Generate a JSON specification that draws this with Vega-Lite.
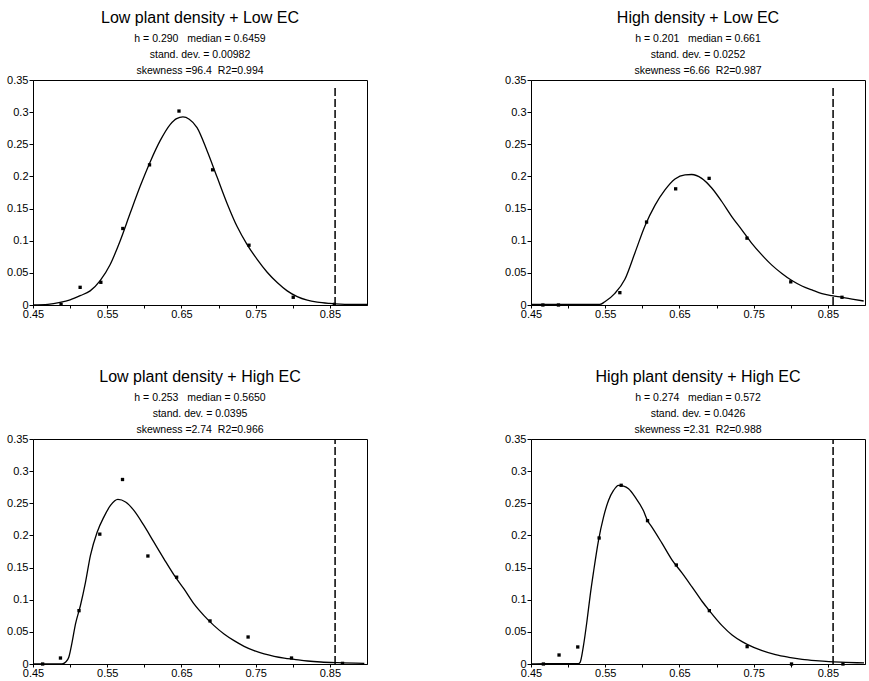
{
  "$schema": "https://vega.github.io/schema/vega-lite/v6.json",
  "background": "white",
  "padding": {"left": 6, "top": 9, "right": 2, "bottom": 2},
  "columns": 2,
  "spacing": {"row": 134, "column": 164},
  "bounds": "flush",
  "datasets": {
    "c1": [
      {"x": 0.45, "y": 0}, {"x": 0.47, "y": 0.001}, {"x": 0.4865, "y": 0.004}, {"x": 0.5, "y": 0.008},
      {"x": 0.5135, "y": 0.0145}, {"x": 0.527, "y": 0.022}, {"x": 0.5405, "y": 0.038}, {"x": 0.554, "y": 0.063},
      {"x": 0.5675, "y": 0.1}, {"x": 0.581, "y": 0.143}, {"x": 0.5945, "y": 0.185}, {"x": 0.608, "y": 0.223},
      {"x": 0.6215, "y": 0.256}, {"x": 0.635, "y": 0.281}, {"x": 0.6435, "y": 0.29}, {"x": 0.652, "y": 0.2925},
      {"x": 0.6605, "y": 0.289}, {"x": 0.671, "y": 0.276}, {"x": 0.6845, "y": 0.24}, {"x": 0.698, "y": 0.199},
      {"x": 0.7115, "y": 0.158}, {"x": 0.725, "y": 0.122}, {"x": 0.7385, "y": 0.094}, {"x": 0.752, "y": 0.071},
      {"x": 0.7655, "y": 0.051}, {"x": 0.779, "y": 0.035}, {"x": 0.7925, "y": 0.022}, {"x": 0.806, "y": 0.013},
      {"x": 0.8195, "y": 0.0075}, {"x": 0.833, "y": 0.0045}, {"x": 0.85, "y": 0.0025}, {"x": 0.875, "y": 0.001},
      {"x": 0.9, "y": 0.001}
    ],
    "p1": [
      {"x": 0.4878, "y": 0.001}, {"x": 0.5135, "y": 0.0275}, {"x": 0.5414, "y": 0.0353}, {"x": 0.571, "y": 0.119},
      {"x": 0.607, "y": 0.218}, {"x": 0.6467, "y": 0.3017}, {"x": 0.692, "y": 0.2103}, {"x": 0.741, "y": 0.093},
      {"x": 0.8006, "y": 0.012}, {"x": 0.856, "y": 0.001}
    ],
    "c2": [
      {"x": 0.45, "y": 0.001}, {"x": 0.5, "y": 0.001}, {"x": 0.5427, "y": 0.001}, {"x": 0.5495, "y": 0.005},
      {"x": 0.563, "y": 0.018}, {"x": 0.5765, "y": 0.04}, {"x": 0.59, "y": 0.081}, {"x": 0.6035, "y": 0.123},
      {"x": 0.617, "y": 0.155}, {"x": 0.6305, "y": 0.179}, {"x": 0.644, "y": 0.196}, {"x": 0.6575, "y": 0.2025},
      {"x": 0.6665, "y": 0.203}, {"x": 0.68, "y": 0.197}, {"x": 0.6935, "y": 0.182}, {"x": 0.707, "y": 0.161},
      {"x": 0.7205, "y": 0.1376}, {"x": 0.734, "y": 0.117}, {"x": 0.7475, "y": 0.096}, {"x": 0.761, "y": 0.078},
      {"x": 0.7745, "y": 0.062}, {"x": 0.788, "y": 0.049}, {"x": 0.8015, "y": 0.038}, {"x": 0.815, "y": 0.0296},
      {"x": 0.8285, "y": 0.0234}, {"x": 0.842, "y": 0.0177}, {"x": 0.8555, "y": 0.0145}, {"x": 0.869, "y": 0.012},
      {"x": 0.8825, "y": 0.0093}, {"x": 0.8982, "y": 0.0062}
    ],
    "p2": [
      {"x": 0.466, "y": 0}, {"x": 0.487, "y": 0}, {"x": 0.5697, "y": 0.0192}, {"x": 0.6057, "y": 0.129},
      {"x": 0.6449, "y": 0.1807}, {"x": 0.69, "y": 0.197}, {"x": 0.741, "y": 0.104}, {"x": 0.8, "y": 0.036},
      {"x": 0.869, "y": 0.012}
    ],
    "c3": [
      {"x": 0.45, "y": 0}, {"x": 0.4892, "y": 0}, {"x": 0.4937, "y": 0.0026}, {"x": 0.4982, "y": 0.0104},
      {"x": 0.5027, "y": 0.034}, {"x": 0.5072, "y": 0.062}, {"x": 0.5139, "y": 0.091}, {"x": 0.5207, "y": 0.127},
      {"x": 0.5274, "y": 0.169}, {"x": 0.5364, "y": 0.205}, {"x": 0.5454, "y": 0.2285}, {"x": 0.5544, "y": 0.2466},
      {"x": 0.5643, "y": 0.256}, {"x": 0.5747, "y": 0.252}, {"x": 0.5859, "y": 0.239}, {"x": 0.5994, "y": 0.2155},
      {"x": 0.6129, "y": 0.1895}, {"x": 0.6264, "y": 0.1636}, {"x": 0.6399, "y": 0.1386}, {"x": 0.6534, "y": 0.1168},
      {"x": 0.6669, "y": 0.0935}, {"x": 0.6804, "y": 0.0753}, {"x": 0.6939, "y": 0.0597}, {"x": 0.7074, "y": 0.0467},
      {"x": 0.7209, "y": 0.0363}, {"x": 0.7344, "y": 0.0275}, {"x": 0.7479, "y": 0.0208}, {"x": 0.7614, "y": 0.0156},
      {"x": 0.7749, "y": 0.012}, {"x": 0.7884, "y": 0.0093}, {"x": 0.8019, "y": 0.0073}, {"x": 0.8199, "y": 0.0047},
      {"x": 0.8379, "y": 0.0031}, {"x": 0.8604, "y": 0.002}, {"x": 0.8964, "y": 0.001}
    ],
    "p3": [
      {"x": 0.463, "y": 0}, {"x": 0.487, "y": 0.0093}, {"x": 0.512, "y": 0.083}, {"x": 0.54, "y": 0.202},
      {"x": 0.5706, "y": 0.287}, {"x": 0.6048, "y": 0.168}, {"x": 0.6435, "y": 0.135}, {"x": 0.6885, "y": 0.067},
      {"x": 0.7398, "y": 0.042}, {"x": 0.7983, "y": 0.0093}, {"x": 0.867, "y": 0.001}
    ],
    "c4": [
      {"x": 0.45, "y": 0}, {"x": 0.47, "y": 0.0005}, {"x": 0.5139, "y": 0.0005}, {"x": 0.5162, "y": 0.0026},
      {"x": 0.5207, "y": 0.0286}, {"x": 0.5252, "y": 0.065}, {"x": 0.5297, "y": 0.1064}, {"x": 0.5342, "y": 0.1428},
      {"x": 0.5409, "y": 0.192}, {"x": 0.5477, "y": 0.2285}, {"x": 0.5544, "y": 0.2544}, {"x": 0.5612, "y": 0.27},
      {"x": 0.5679, "y": 0.2778}, {"x": 0.5747, "y": 0.2767}, {"x": 0.5814, "y": 0.2726}, {"x": 0.5904, "y": 0.2596},
      {"x": 0.6017, "y": 0.238}, {"x": 0.607, "y": 0.223}, {"x": 0.6129, "y": 0.213}, {"x": 0.6264, "y": 0.188},
      {"x": 0.6399, "y": 0.162}, {"x": 0.6534, "y": 0.1417}, {"x": 0.6669, "y": 0.1199}, {"x": 0.6804, "y": 0.0976},
      {"x": 0.6903, "y": 0.083}, {"x": 0.7074, "y": 0.0597}, {"x": 0.7209, "y": 0.0451}, {"x": 0.7344, "y": 0.0348},
      {"x": 0.7412, "y": 0.0306}, {"x": 0.7614, "y": 0.0208}, {"x": 0.7794, "y": 0.0145}, {"x": 0.7974, "y": 0.0104},
      {"x": 0.8154, "y": 0.0073}, {"x": 0.8334, "y": 0.0052}, {"x": 0.8514, "y": 0.0036}, {"x": 0.8739, "y": 0.0026},
      {"x": 0.8987, "y": 0.0016}
    ],
    "p4": [
      {"x": 0.4667, "y": 0}, {"x": 0.4878, "y": 0.014}, {"x": 0.513, "y": 0.0265}, {"x": 0.5418, "y": 0.196},
      {"x": 0.5715, "y": 0.278}, {"x": 0.607, "y": 0.223}, {"x": 0.6458, "y": 0.154}, {"x": 0.6903, "y": 0.083},
      {"x": 0.7412, "y": 0.027}, {"x": 0.801, "y": 0}, {"x": 0.8703, "y": 0}
    ],
    "r12": [{"x": 0.857, "y": 0, "y2": 0.341}],
    "r34": [{"x": 0.857, "y": 0, "y2": 0.35}]
  },
  "concat": [
    {
      "title": {"text": "Low plant density + Low EC", "subtitle": ["h = 0.290\u00a0\u00a0\u00a0median = 0.6459", "stand. dev. = 0.00982", "skewness =96.4\u00a0\u00a0R2=0.994"]},
      "width": 334, "height": 225,
      "encoding": {
        "x": {"field": "x", "type": "quantitative", "scale": {"domain": [0.45, 0.9], "nice": false, "zero": false},
              "axis": {"values": [0.45, 0.5, 0.55, 0.6, 0.65, 0.7, 0.75, 0.8, 0.85], "labelExpr": "round(datum.value * 20) % 2 == 1 ? format(datum.value, '.2f') : ''", "labelOverlap": false, "labelFlush": false, "tickSize": 3, "labelPadding": 0}},
        "y": {"field": "y", "type": "quantitative", "scale": {"domain": [0, 0.35], "nice": false},
              "axis": {"values": [0, 0.05, 0.1, 0.15, 0.2, 0.25, 0.3, 0.35], "labelExpr": "format(datum.value, '~g')", "labelOverlap": false, "labelFlush": false}}
      },
      "layer": [
        {"data": {"name": "c1"}, "mark": {"type": "line", "color": "black", "strokeWidth": 1.3, "interpolate": "monotone"}},
        {"data": {"name": "p1"}, "mark": {"type": "square", "color": "black", "filled": true, "opacity": 1, "size": 11}},
        {"data": {"name": "r12"}, "mark": {"type": "rule", "color": "black", "strokeWidth": 1.5, "strokeDash": [8, 3]}, "encoding": {"y2": {"field": "y2"}}}
      ]
    },
    {
      "title": {"text": "High density + Low EC", "subtitle": ["h = 0.201\u00a0\u00a0\u00a0median = 0.661", "stand. dev. = 0.0252", "skewness =6.66\u00a0\u00a0R2=0.987"]},
      "width": 334, "height": 225,
      "encoding": {
        "x": {"field": "x", "type": "quantitative", "scale": {"domain": [0.45, 0.9], "nice": false, "zero": false},
              "axis": {"values": [0.45, 0.5, 0.55, 0.6, 0.65, 0.7, 0.75, 0.8, 0.85], "labelExpr": "round(datum.value * 20) % 2 == 1 ? format(datum.value, '.2f') : ''", "labelOverlap": false, "labelFlush": false, "tickSize": 3, "labelPadding": 0}},
        "y": {"field": "y", "type": "quantitative", "scale": {"domain": [0, 0.35], "nice": false},
              "axis": {"values": [0, 0.05, 0.1, 0.15, 0.2, 0.25, 0.3, 0.35], "labelExpr": "format(datum.value, '~g')", "labelOverlap": false, "labelFlush": false}}
      },
      "layer": [
        {"data": {"name": "c2"}, "mark": {"type": "line", "color": "black", "strokeWidth": 1.3, "interpolate": "monotone"}},
        {"data": {"name": "p2"}, "mark": {"type": "square", "color": "black", "filled": true, "opacity": 1, "size": 11}},
        {"data": {"name": "r12"}, "mark": {"type": "rule", "color": "black", "strokeWidth": 1.5, "strokeDash": [8, 3]}, "encoding": {"y2": {"field": "y2"}}}
      ]
    },
    {
      "title": {"text": "Low plant density + High EC", "subtitle": ["h = 0.253\u00a0\u00a0\u00a0median = 0.5650", "stand. dev. = 0.0395", "skewness =2.74\u00a0\u00a0R2=0.966"]},
      "width": 334, "height": 225,
      "encoding": {
        "x": {"field": "x", "type": "quantitative", "scale": {"domain": [0.45, 0.9], "nice": false, "zero": false},
              "axis": {"values": [0.45, 0.5, 0.55, 0.6, 0.65, 0.7, 0.75, 0.8, 0.85], "labelExpr": "round(datum.value * 20) % 2 == 1 ? format(datum.value, '.2f') : ''", "labelOverlap": false, "labelFlush": false, "tickSize": 3, "labelPadding": 0}},
        "y": {"field": "y", "type": "quantitative", "scale": {"domain": [0, 0.35], "nice": false},
              "axis": {"values": [0, 0.05, 0.1, 0.15, 0.2, 0.25, 0.3, 0.35], "labelExpr": "format(datum.value, '~g')", "labelOverlap": false, "labelFlush": false}}
      },
      "layer": [
        {"data": {"name": "c3"}, "mark": {"type": "line", "color": "black", "strokeWidth": 1.3, "interpolate": "monotone"}},
        {"data": {"name": "p3"}, "mark": {"type": "square", "color": "black", "filled": true, "opacity": 1, "size": 11}},
        {"data": {"name": "r34"}, "mark": {"type": "rule", "color": "black", "strokeWidth": 1.5, "strokeDash": [8, 3]}, "encoding": {"y2": {"field": "y2"}}}
      ]
    },
    {
      "title": {"text": "High plant density + High EC", "subtitle": ["h = 0.274\u00a0\u00a0\u00a0median = 0.572", "stand. dev. = 0.0426", "skewness =2.31\u00a0\u00a0R2=0.988"]},
      "width": 334, "height": 225,
      "encoding": {
        "x": {"field": "x", "type": "quantitative", "scale": {"domain": [0.45, 0.9], "nice": false, "zero": false},
              "axis": {"values": [0.45, 0.5, 0.55, 0.6, 0.65, 0.7, 0.75, 0.8, 0.85], "labelExpr": "round(datum.value * 20) % 2 == 1 ? format(datum.value, '.2f') : ''", "labelOverlap": false, "labelFlush": false, "tickSize": 3, "labelPadding": 0}},
        "y": {"field": "y", "type": "quantitative", "scale": {"domain": [0, 0.35], "nice": false},
              "axis": {"values": [0, 0.05, 0.1, 0.15, 0.2, 0.25, 0.3, 0.35], "labelExpr": "format(datum.value, '~g')", "labelOverlap": false, "labelFlush": false}}
      },
      "layer": [
        {"data": {"name": "c4"}, "mark": {"type": "line", "color": "black", "strokeWidth": 1.3, "interpolate": "monotone"}},
        {"data": {"name": "p4"}, "mark": {"type": "square", "color": "black", "filled": true, "opacity": 1, "size": 11}},
        {"data": {"name": "r34"}, "mark": {"type": "rule", "color": "black", "strokeWidth": 1.5, "strokeDash": [8, 3]}, "encoding": {"y2": {"field": "y2"}}}
      ]
    }
  ],
  "config": {
    "font": "Liberation Sans",
    "view": {"stroke": "black", "strokeWidth": 1},
    "axis": {"title": null, "grid": false, "domainColor": "black", "domainWidth": 1, "tickColor": "black", "tickWidth": 1, "tickSize": 4, "labelPadding": 1, "labelColor": "black", "labelFont": "Liberation Sans", "labelFontSize": 11},
    "title": {"anchor": "middle", "font": "Liberation Sans", "fontSize": 16, "fontWeight": "normal", "color": "black", "subtitleFont": "Liberation Sans", "subtitleFontSize": 10.5, "subtitleColor": "black", "subtitleLineHeight": 16, "subtitlePadding": 8, "offset": -2}
  }
}
